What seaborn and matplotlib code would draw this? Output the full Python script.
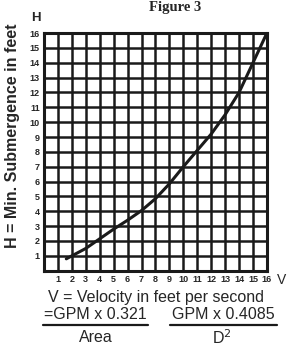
import matplotlib
matplotlib.use("Agg")
import matplotlib.pyplot as plt
import seaborn as sns
import pandas as pd

# values
velocity = [1.6, 3.0, 4.0, 5.0, 6.0, 7.0, 8.0, 9.0, 10.0, 11.0, 12.0, 13.0, 14.0, 15.0, 16.0]
submergence = [0.8, 1.5, 2.15, 2.8, 3.4, 4.05, 4.85, 5.85, 7.0, 8.1, 9.2, 10.5, 12.0, 14.0, 16.0]
ticks = list(range(1, 17))

df = pd.DataFrame({"V": velocity, "H": submergence})

sns.set_style("white")
plt.rcParams['font.family'] = ['Liberation Sans', 'DejaVu Sans']

fig = plt.figure(figsize=(2.88, 3.48), dpi=100)
ax = fig.add_axes([0.1528, 0.2221, 0.774, 0.683])

sns.lineplot(data=df, x="V", y="H", ax=ax, color="#1a1a1a", linewidth=2.2)

ax.set_xlim(0, 16)
ax.set_ylim(0, 16)
ax.set_xticks(range(0, 17))
ax.set_yticks(range(0, 17))
ax.set_xticklabels([""] + [str(t) for t in ticks])
ax.set_yticklabels([""] + [str(t) for t in ticks])
ax.grid(True, color="#1a1a1a", linewidth=1.8)
ax.tick_params(length=0, pad=3, labelsize=6.5)
for lab in ax.get_xticklabels() + ax.get_yticklabels():
    lab.set_fontweight("bold")
for sp in ax.spines.values():
    sp.set_color("#1a1a1a")
    sp.set_linewidth(2.2)
ax.set_xlabel("")
ax.set_ylabel("")

fig.text(0.608, 0.968, "Figure 3", ha="center", va="baseline",
         family="Liberation Serif", fontweight="bold", fontsize=10.5)
fig.text(0.125, 0.948, "H", ha="center", va="center", fontweight="bold", fontsize=9.5)
fig.text(0.995, 0.195, "V", ha="right", va="center", fontsize=10)
fig.text(0.045, 0.61, "H = Min. Submergence in feet", rotation=90,
         ha="center", va="center", fontweight="bold", fontsize=11.5)
fig.text(0.54, 0.145, "V = Velocity in feet per second", ha="center", va="center",
         fontsize=11.5)
fig.text(0.33, 0.095, "=GPM x 0.321", ha="center", va="center", fontsize=11.5)
fig.text(0.775, 0.095, "GPM x 0.4085", ha="center", va="center", fontsize=11.5)
fig.add_artist(plt.Line2D([0.15, 0.515], [0.066, 0.066], color="#1a1a1a", linewidth=1.6))
fig.add_artist(plt.Line2D([0.59, 0.962], [0.066, 0.066], color="#1a1a1a", linewidth=1.6))
fig.text(0.333, 0.03, "Area", ha="center", va="center", fontsize=11.5)
fig.text(0.77, 0.03, "D$^2$", ha="center", va="center", fontsize=11.5)

fig.savefig("out.png", dpi=100)
